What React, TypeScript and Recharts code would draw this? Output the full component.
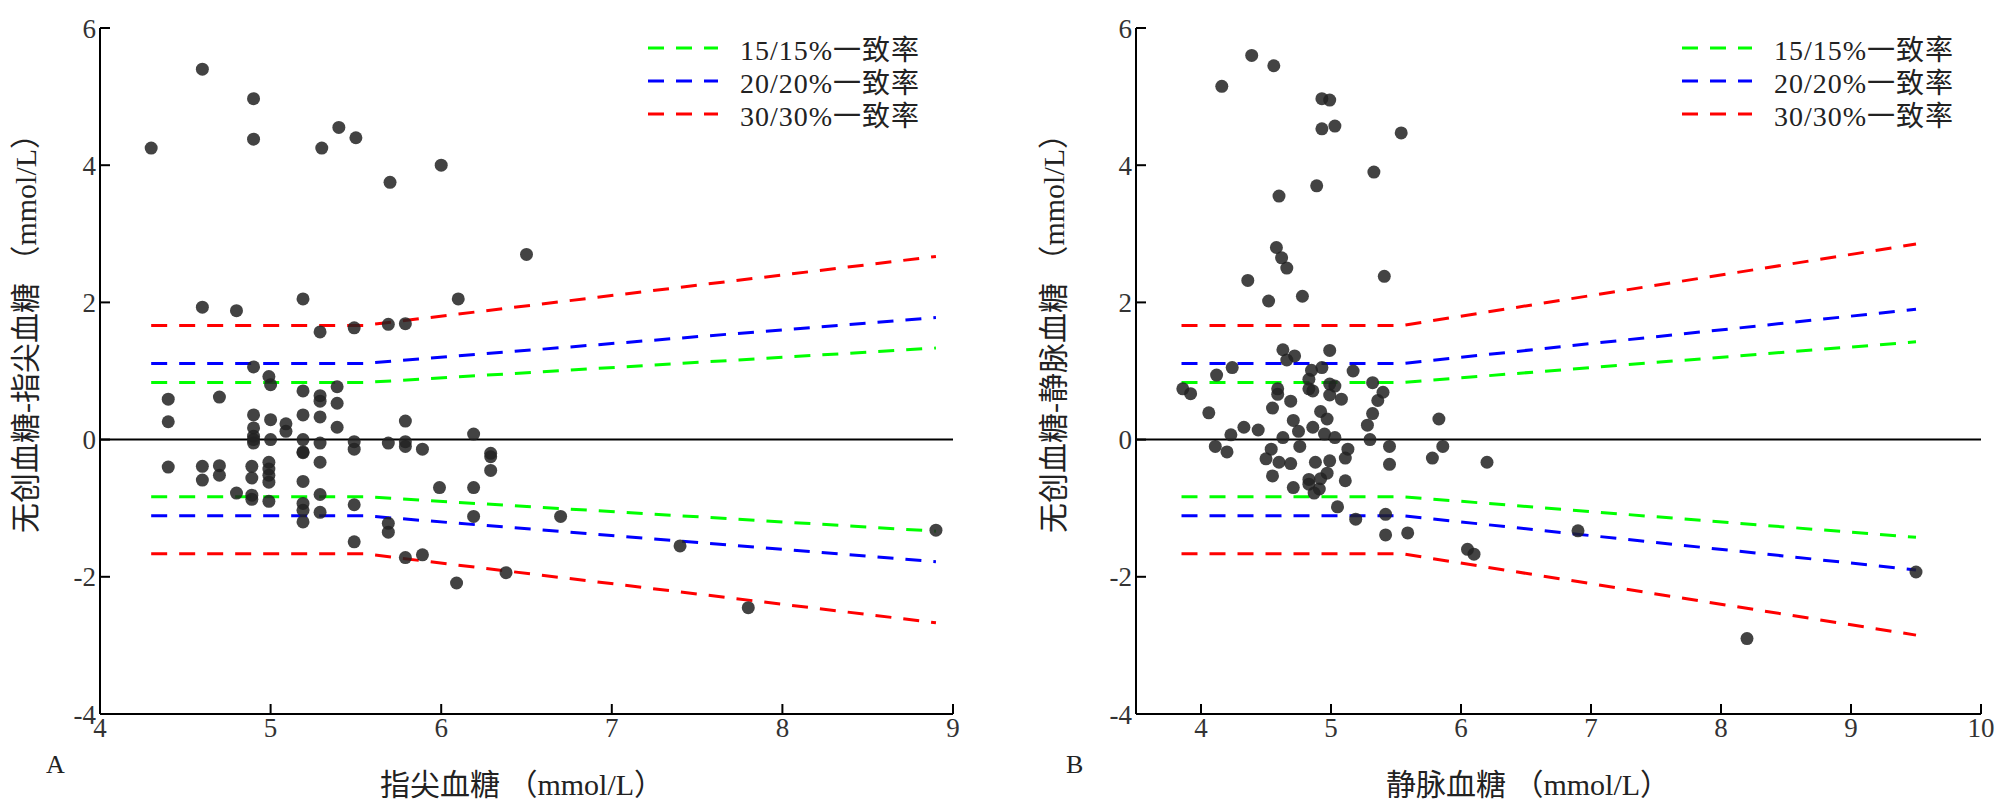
import React from "react";
import { ScatterChart, Scatter, XAxis, YAxis, ReferenceLine } from "recharts";

// Panel A: 指尖血糖 vs 差值
const pointsA: [number, number][] = [
  [4.3, 4.25], [4.6, 5.4], [4.9, 4.97], [4.9, 4.38], [5.3, 4.25], [5.4, 4.55], [5.5, 4.4], [5.7, 3.75],
  [6.0, 4.0], [6.5, 2.7], [4.6, 1.93], [4.8, 1.88], [5.19, 2.05], [5.29, 1.57], [5.49, 1.63], [5.69, 1.68],
  [5.79, 1.69], [6.1, 2.05], [4.4, 0.59], [4.4, 0.26], [4.7, 0.62], [4.9, 1.06], [4.99, 0.92], [5.0, 0.8],
  [5.19, 0.71], [5.29, 0.64], [5.29, 0.56], [5.39, 0.77], [5.39, 0.53], [5.39, 0.18], [4.9, 0.36], [5.0, 0.29],
  [5.09, 0.23], [5.09, 0.12], [5.19, 0.36], [5.29, 0.33], [4.9, 0.17], [4.9, 0.05], [4.9, 0.0], [4.9, -0.05],
  [5.0, 0.0], [5.19, 0.0], [5.29, -0.05], [5.19, -0.18], [5.49, -0.03], [5.49, -0.14], [5.69, -0.05],
  [5.79, -0.1], [5.79, 0.27], [4.4, -0.4], [4.6, -0.39], [4.6, -0.59], [4.7, -0.38], [4.7, -0.52],
  [4.8, -0.78], [4.89, -0.39], [4.89, -0.56], [4.89, -0.81], [4.89, -0.87], [4.99, -0.33], [4.99, -0.43],
  [4.99, -0.52], [4.99, -0.62], [4.99, -0.9], [5.19, -0.19], [5.19, -0.61], [5.19, -0.93], [5.19, -1.03],
  [5.19, -1.2], [5.29, -0.33], [5.29, -0.8], [5.29, -1.06], [5.49, -0.95], [5.49, -1.49], [5.69, -1.22],
  [5.69, -1.35], [5.79, -0.03], [5.79, -1.72], [5.89, -0.14], [5.89, -1.68], [5.99, -0.7], [6.09, -2.09],
  [6.19, 0.08], [6.19, -0.7], [6.19, -1.12], [6.29, -0.2], [6.29, -0.25], [6.29, -0.45], [6.38, -1.94],
  [6.7, -1.12], [7.4, -1.55], [7.8, -2.45], [8.9, -1.32],
];

// Panel B: 静脉血糖 vs 差值
const pointsB: [number, number][] = [
  [4.16, 5.15], [4.39, 5.6], [4.56, 5.45], [4.93, 4.97], [4.99, 4.95], [4.93, 4.53], [5.03, 4.57],
  [5.54, 4.47], [5.33, 3.9], [4.89, 3.7], [4.6, 3.55], [4.58, 2.8], [4.62, 2.65], [4.66, 2.5], [5.41, 2.38],
  [4.36, 2.32], [4.52, 2.02], [4.78, 2.09], [4.63, 1.31], [4.72, 1.22], [4.66, 1.16], [4.99, 1.3],
  [4.24, 1.05], [4.12, 0.94], [4.85, 1.01], [4.93, 1.05], [5.17, 1.0], [4.83, 0.88], [4.99, 0.81],
  [5.03, 0.78], [5.32, 0.83], [4.59, 0.74], [4.59, 0.66], [4.83, 0.74], [4.86, 0.71], [4.99, 0.65],
  [5.08, 0.59], [5.4, 0.69], [5.36, 0.57], [3.86, 0.74], [3.92, 0.67], [4.06, 0.39], [4.55, 0.46],
  [4.69, 0.56], [4.92, 0.41], [4.97, 0.3], [4.71, 0.28], [5.32, 0.38], [5.28, 0.21], [5.83, 0.3],
  [4.33, 0.18], [4.44, 0.14], [4.23, 0.07], [4.86, 0.18], [4.75, 0.12], [4.95, 0.08], [4.63, 0.03],
  [5.03, 0.03], [5.3, 0.0], [4.11, -0.1], [4.2, -0.18], [4.54, -0.14], [4.76, -0.1], [5.13, -0.14],
  [5.45, -0.1], [5.86, -0.1], [4.5, -0.28], [4.6, -0.33], [4.69, -0.35], [4.88, -0.33], [4.99, -0.31],
  [5.11, -0.27], [5.45, -0.36], [5.78, -0.27], [6.2, -0.33], [4.55, -0.53], [4.97, -0.49], [4.83, -0.58],
  [4.92, -0.57], [5.11, -0.6], [4.83, -0.65], [4.71, -0.7], [4.91, -0.72], [4.87, -0.78], [5.05, -0.98],
  [5.19, -1.16], [5.42, -1.09], [5.42, -1.39], [5.59, -1.36], [6.05, -1.6], [6.1, -1.67], [6.9, -1.33],
  [8.2, -2.9], [9.5, -1.93],
];

// 一致率界线 (x 断点)
const limitXA = [4.3, 5.55, 8.9];
const limitXB = [3.85, 5.55, 9.5];
const rates = [0.15, 0.2, 0.3];
const rateNames = ["15/15%一致率", "20/20%一致率", "30/30%一致率"];
const rateColors = ["#00ff00", "#0000ff", "#ff0000"];

const yTicks = [-4, -2, 0, 2, 4, 6];
const xTicksA = [4, 5, 6, 7, 8, 9];
const xTicksB = [4, 5, 6, 7, 8, 9, 10];

const FONT = "'Liberation Serif', 'Noto Sans CJK SC', serif";
const tick = { fill: "#333", fontSize: 27, fontFamily: FONT };

function limitLine(xs: number[], rate: number, sign: number) {
  // 5.55 以下为固定值, 以上为比例
  return xs.map((x) => ({ x, y: sign * rate * Math.max(x, 5.55) }));
}

const Dot = (p: any) => <circle cx={p.cx} cy={p.cy} r={6.5} fill="#222" fillOpacity={0.85} />;

interface PanelProps {
  points: [number, number][];
  limitX: number[];
  domain: [number, number];
  xTicks: number[];
  left: number;
  width: number;
  marginLeft: number;
  marginRight: number;
}

function Panel({ points, limitX, domain, xTicks, left, width, marginLeft, marginRight }: PanelProps) {
  const data = points.map(([x, y]) => ({ x, y }));
  return (
    <div style={{ position: "absolute", left, top: 0 }}>
      <ScatterChart width={width} height={805} margin={{ top: 28, left: marginLeft, right: marginRight, bottom: 61 }}>
        <XAxis type="number" dataKey="x" domain={domain} ticks={xTicks} height={30}
          axisLine={{ stroke: "#000", strokeWidth: 2 }} tickLine={{ stroke: "#000", strokeWidth: 2 }}
          tickSize={-10} tickMargin={14} tick={tick} allowDataOverflow />
        <YAxis type="number" dataKey="y" domain={[-4, 6]} ticks={yTicks} width={60}
          axisLine={{ stroke: "#000", strokeWidth: 2 }} tickLine={{ stroke: "#000", strokeWidth: 2 }}
          tickSize={-10} tickMargin={14} tick={tick} />
        <ReferenceLine y={0} stroke="#000" strokeWidth={2} />
        {rates.map((r, i) =>
          [1, -1].map((s) => (
            <Scatter key={`${i}${s}`} data={limitLine(limitX, r, s)} isAnimationActive={false}
              line={{ stroke: rateColors[i], strokeWidth: 3, strokeDasharray: "16 12" }}
              shape={() => <g />} />
          ))
        )}
        <Scatter data={data} isAnimationActive={false} shape={Dot} />
      </ScatterChart>
    </div>
  );
}

function Legend({ left }: { left: number }) {
  return (
    <div style={{ position: "absolute", left, top: 31 }}>
      {rateNames.map((n, i) => (
        <div key={n} style={{ display: "flex", alignItems: "center", height: 33 }}>
          <svg width={70} height={10}>
            <line x1={0} x2={70} y1={5} y2={5} stroke={rateColors[i]} strokeWidth={3} strokeDasharray="16 12" />
          </svg>
          <span style={{ marginLeft: 22, fontSize: 28, fontFamily: FONT, color: "#222", letterSpacing: 1 }}>{n}</span>
        </div>
      ))}
    </div>
  );
}

const labelStyle: React.CSSProperties = { position: "absolute", fontSize: 30, fontFamily: FONT, color: "#222", whiteSpace: "nowrap" };

export default function App() {
  return (
    <div style={{ position: "absolute", left: 0, top: 0, width: 2005, height: 805, background: "#fff" }}>
      <Panel points={pointsA} limitX={limitXA} domain={[4, 9]} xTicks={xTicksA}
        left={0} width={1002} marginLeft={40} marginRight={49} />
      <Panel points={pointsB} limitX={limitXB} domain={[3.5, 10]} xTicks={xTicksB}
        left={1002} width={1003} marginLeft={74} marginRight={24} />
      <Legend left={648} />
      <Legend left={1682} />
      <div style={{ ...labelStyle, left: 23, top: 326, transform: "translate(-50%,-50%) rotate(-90deg)" }}>无创血糖-指尖血糖 （mmol/L）</div>
      <div style={{ ...labelStyle, left: 1051, top: 326, transform: "translate(-50%,-50%) rotate(-90deg)" }}>无创血糖-静脉血糖 （mmol/L）</div>
      <div style={{ ...labelStyle, left: 522, top: 782, transform: "translate(-50%,-50%)" }}>指尖血糖 （mmol/L）</div>
      <div style={{ ...labelStyle, left: 1528, top: 782, transform: "translate(-50%,-50%)" }}>静脉血糖 （mmol/L）</div>
      <div style={{ ...labelStyle, left: 46, top: 750, fontSize: 26 }}>A</div>
      <div style={{ ...labelStyle, left: 1066, top: 750, fontSize: 26 }}>B</div>
    </div>
  );
}
